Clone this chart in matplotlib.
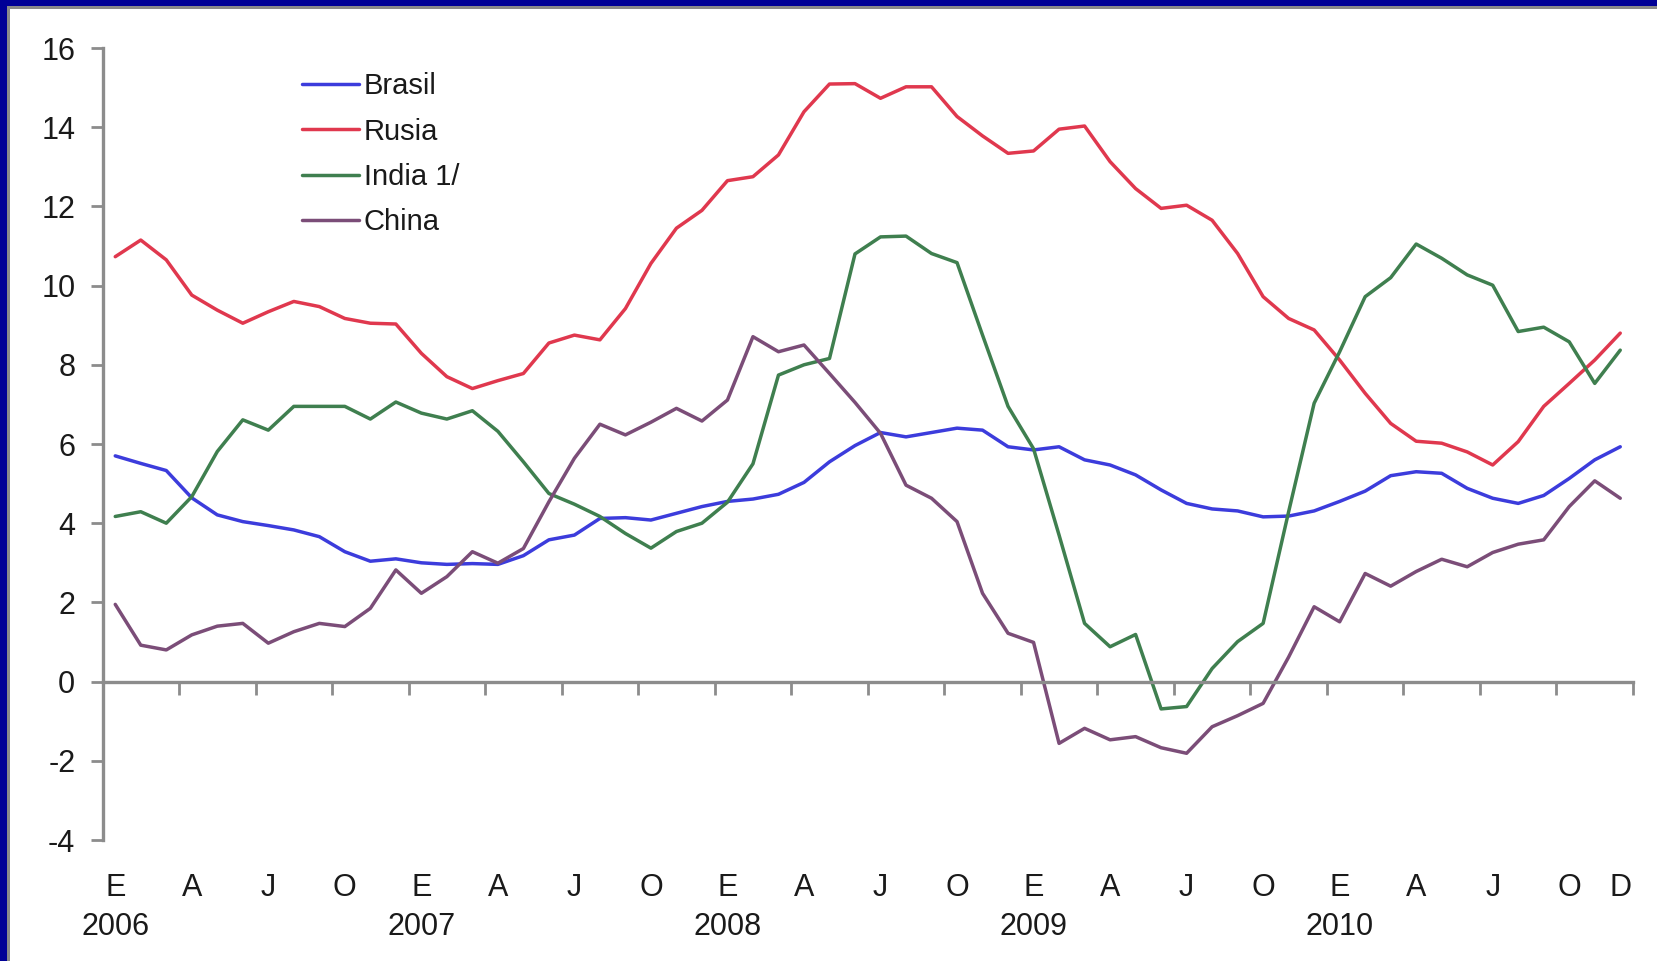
import numpy as np
import matplotlib
matplotlib.use("Agg")
import matplotlib.pyplot as plt
from matplotlib.patches import Rectangle

plt.rcParams["font.family"] = ["Liberation Sans", "DejaVu Sans"]

# Monthly inflation, Jan 2006 - Dec 2010 (60 months)
brasil = [5.70, 5.51, 5.33, 4.64, 4.21, 4.04, 3.94, 3.83, 3.66, 3.28, 3.04, 3.10,
          3.00, 2.96, 2.98, 2.96, 3.18, 3.58, 3.70, 4.12, 4.14, 4.08, 4.25, 4.42,
          4.55, 4.61, 4.73, 5.03, 5.55, 5.96, 6.29, 6.18, 6.29, 6.40, 6.35, 5.93,
          5.85, 5.93, 5.60, 5.47, 5.22, 4.84, 4.50, 4.36, 4.31, 4.16, 4.18, 4.31,
          4.55, 4.81, 5.20, 5.30, 5.26, 4.88, 4.63, 4.50, 4.70, 5.13, 5.60, 5.93]

rusia = [10.73, 11.15, 10.65, 9.76, 9.38, 9.05, 9.34, 9.60, 9.47, 9.17, 9.05, 9.03,
         8.29, 7.70, 7.40, 7.60, 7.78, 8.55, 8.75, 8.63, 9.42, 10.56, 11.45, 11.90,
         12.65, 12.75, 13.30, 14.39, 15.09, 15.10, 14.73, 15.02, 15.02, 14.27, 13.78, 13.34,
         13.40, 13.95, 14.03, 13.13, 12.45, 11.95, 12.03, 11.65, 10.81, 9.72, 9.17, 8.88,
         8.12, 7.28, 6.52, 6.07, 6.02, 5.80, 5.47, 6.06, 6.95, 7.53, 8.12, 8.80]

india = [4.17, 4.29, 4.00, 4.67, 5.81, 6.61, 6.35, 6.95, 6.95, 6.95, 6.63, 7.06,
         6.78, 6.63, 6.84, 6.32, 5.55, 4.75, 4.48, 4.17, 3.74, 3.37, 3.79, 4.00,
         4.53, 5.50, 7.74, 8.00, 8.16, 10.80, 11.23, 11.25, 10.81, 10.58, 8.75, 6.95,
         5.88, 3.70, 1.47, 0.88, 1.19, -0.69, -0.63, 0.33, 1.01, 1.47, 4.29, 7.03,
         8.33, 9.72, 10.20, 11.05, 10.69, 10.27, 10.01, 8.84, 8.95, 8.58, 7.53, 8.37]

china = [1.95, 0.92, 0.80, 1.18, 1.40, 1.47, 0.97, 1.26, 1.47, 1.39, 1.85, 2.82,
         2.23, 2.65, 3.28, 2.99, 3.36, 4.54, 5.64, 6.50, 6.23, 6.55, 6.90, 6.58,
         7.11, 8.71, 8.33, 8.50, 7.78, 7.05, 6.27, 4.96, 4.63, 4.04, 2.23, 1.22,
         0.99, -1.56, -1.18, -1.47, -1.39, -1.67, -1.81, -1.14, -0.86, -0.55, 0.62, 1.89,
         1.51, 2.73, 2.41, 2.78, 3.09, 2.90, 3.26, 3.47, 3.58, 4.42, 5.07, 4.63]

series_names = ["Brasil", "Rusia", "India 1/", "China"]
series_colors = ["#3c3cdc", "#e0384e", "#3f7f4f", "#7b4d78"]

month_letters = ["E", "A", "J", "O"] * 5 + ["D"]
month_label_pos = list(range(0, 60, 3)) + [59]
years = ["2006", "2007", "2008", "2009", "2010"]
year_pos = [0, 12, 24, 36, 48]

y_ticks = list(range(-4, 17, 2))

W, H = 1657, 961
fig = plt.figure(figsize=(W / 100, H / 100), dpi=100)
fig.patch.set_facecolor("white")

# dark blue slide frame with a grey inner rule
frame_blue = "#000096"
frame_grey = "#8a8a8a"
fig.add_artist(Rectangle((0, 0), 7 / W, 1, transform=fig.transFigure,
                         facecolor=frame_blue, edgecolor="none"))
fig.add_artist(Rectangle((0, 1 - 6 / H), 1, 6 / H, transform=fig.transFigure,
                         facecolor=frame_blue, edgecolor="none"))
fig.add_artist(Rectangle((7 / W, 0), 3 / W, 1 - 6 / H, transform=fig.transFigure,
                         facecolor=frame_grey, edgecolor="none"))
fig.add_artist(Rectangle((7 / W, 1 - 9 / H), 1, 3 / H, transform=fig.transFigure,
                         facecolor=frame_grey, edgecolor="none"))

ax = fig.add_axes([102.5 / W, 1 - 840 / H, (1633 - 102.5) / W, (840 - 48) / H])
ax.set_facecolor("white")

months = np.arange(len(brasil))
for vals, name, col in zip([brasil, rusia, india, china], series_names, series_colors):
    ax.plot(months, vals, color=col, lw=2.5, label=name,
            solid_joinstyle="round", solid_capstyle="round")

ax.set_xlim(-0.5, 59.5)
ax.set_ylim(-4, 16)

axis_grey = "#8c8c8c"
for s in ("top", "right"):
    ax.spines[s].set_visible(False)
ax.spines["left"].set_color(axis_grey)
ax.spines["left"].set_linewidth(2.4)
ax.spines["bottom"].set_position(("data", 0))
ax.spines["bottom"].set_color(axis_grey)
ax.spines["bottom"].set_linewidth(2.4)

ax.set_yticks(y_ticks)
ax.set_yticklabels([str(v) for v in y_ticks])
ax.tick_params(axis="y", direction="out", length=8.6, width=2, color=axis_grey,
               pad=11, labelsize=22, labelcolor="#1a1a1a")
ax.set_xticks(np.arange(-0.5, 60, 3))
ax.tick_params(axis="x", direction="out", length=9, width=2, color=axis_grey,
               labelbottom=False)

xt = ax.get_xaxis_transform()
for m, lab in zip(month_label_pos, month_letters):
    ax.text(m, -0.0606, lab, transform=xt, ha="center", va="center",
            fontsize=22, color="#1a1a1a", clip_on=False)
for m, lab in zip(year_pos, years):
    ax.text(m, -0.1098, lab, transform=xt, ha="center", va="center",
            fontsize=22, color="#1a1a1a", clip_on=False)

leg = ax.legend(loc="upper left", bbox_to_anchor=(302 / W, 1 - 72 / H),
                bbox_transform=fig.transFigure, frameon=False, fontsize=21,
                handlelength=1.95, handletextpad=0.17, labelspacing=0.6,
                borderpad=0, borderaxespad=0)
for t in leg.get_texts():
    t.set_color("#1a1a1a")

fig.savefig("out.png", dpi=100, facecolor=fig.get_facecolor())
